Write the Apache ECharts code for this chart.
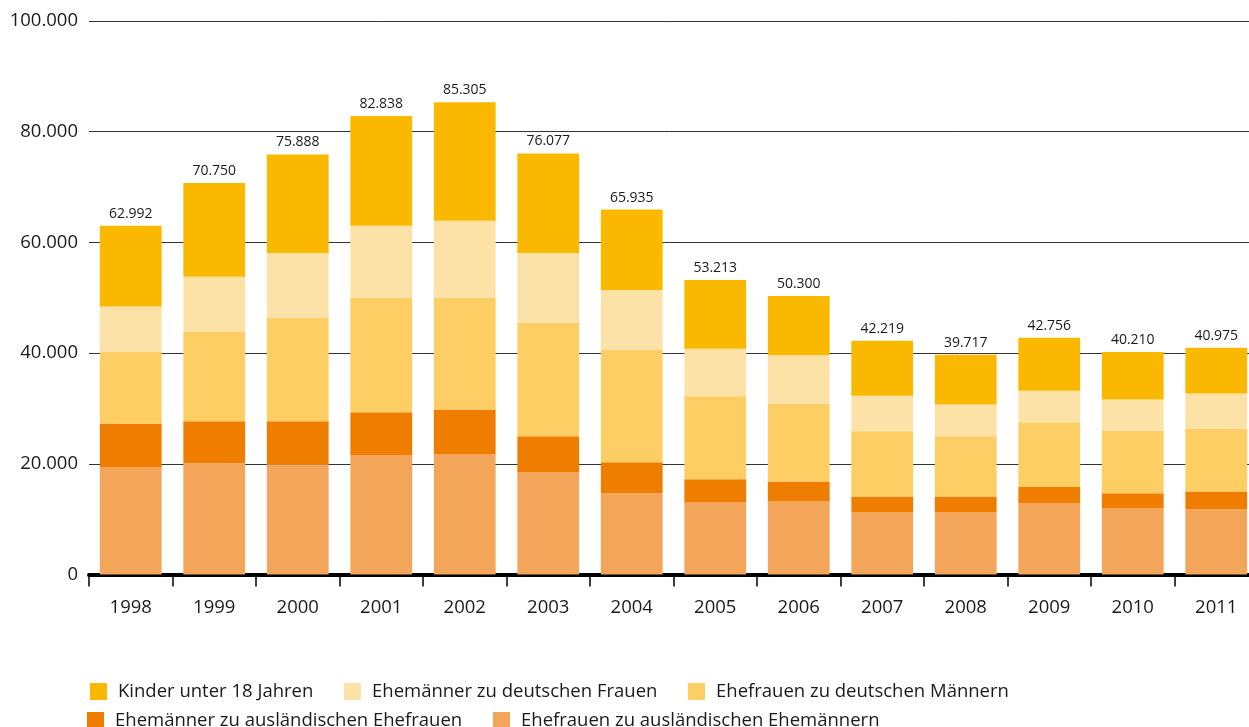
<!DOCTYPE html>
<html><head><meta charset="utf-8">
<script src="https://cdn.jsdelivr.net/npm/echarts@6/dist/echarts.min.js"></script>
<style>html,body{margin:0;padding:0;background:#fff}#c{width:1249px;height:727px}</style>
</head><body><div id="c"></div>
<script>
const years = ['1998','1999','2000','2001','2002','2003','2004','2005','2006','2007','2008','2009','2010','2011'];
const totals = [62992,70750,75888,82838,85305,76077,65935,53213,50300,42219,39717,42756,40210,40975];
const ehefrauenAuslMaenner = [19400,20100,19900,21500,21700,18500,14700,13100,13200,11300,11300,12900,12000,11800];
const ehemaennerAuslFrauen = [7900,7600,7800,7800,8100,6500,5600,4100,3600,2800,2800,2900,2700,3200];
const ehefrauenDtMaenner = [13000,16200,18700,20700,20200,20500,20300,15000,14100,11800,10900,11700,11300,11400];
const ehemaennerDtFrauen = [8100,9900,11700,13000,13900,12600,10800,8600,8700,6400,5700,5700,5600,6300];
const kinder = [14592,16950,17788,19838,21405,17977,14535,12413,10700,9919,9017,9556,8610,8275];
const yTicks = [0,20000,40000,60000,80000,100000];

const names = ['Kinder unter 18 Jahren','Ehemänner zu deutschen Frauen','Ehefrauen zu deutschen Männern','Ehemänner zu ausländischen Ehefrauen','Ehefrauen zu ausländischen Ehemännern'];
const colors = {k:'#fab900', edf:'#fde2a8', edm:'#fdce63', eaf:'#ee7d00', eam:'#f3a659'};
const fmt = v => String(v).replace(/\B(?=(\d{3})+(?!\d))/g, '.');
const FONT = 'Open Sans';

function legend(name, left, top){
  return {data:[name], left:left, top:top, icon:'rect', itemWidth:17, itemHeight:17, itemGap:0,
    selectedMode:false, padding:0,
    textStyle:{fontFamily:FONT, fontSize:18.5, color:'#1a1a1a', padding:[0,0,0,6]}};
}

const chart = echarts.init(document.getElementById('c'), null, {renderer:'canvas'});
const barBase = {type:'bar', stack:'total', barCategoryGap:'26%', animation:false};
chart.setOption({
  animation:false,
  grid:{left:89, width:1169, top:21, bottom:152.5, containLabel:false, outerBoundsMode:'none'},
  legend:[
    legend(names[0], 90, 682),
    legend(names[1], 344, 682),
    legend(names[2], 688, 682),
    legend(names[3], 87, 711),
    legend(names[4], 493, 711)
  ],
  xAxis:{type:'category', data:years,
    axisLine:{lineStyle:{color:'#000', width:4}},
    axisTick:{show:true, length:12, lineStyle:{color:'#000', width:1.5}},
    axisLabel:{fontFamily:FONT, fontSize:18.5, color:'#1a1a1a', margin:24}},
  yAxis:{type:'value', min:yTicks[0], max:yTicks[yTicks.length-1], interval:20000,
    axisLine:{show:false}, axisTick:{show:false},
    splitLine:{lineStyle:{color:'#333', width:1}},
    axisLabel:{fontFamily:FONT, fontSize:18.5, color:'#1a1a1a', margin:11, formatter:fmt}},
  series:[
    Object.assign({}, barBase, {name:names[4], data:ehefrauenAuslMaenner, itemStyle:{color:colors.eam}}),
    Object.assign({}, barBase, {name:names[3], data:ehemaennerAuslFrauen, itemStyle:{color:colors.eaf}}),
    Object.assign({}, barBase, {name:names[2], data:ehefrauenDtMaenner, itemStyle:{color:colors.edm}}),
    Object.assign({}, barBase, {name:names[1], data:ehemaennerDtFrauen, itemStyle:{color:colors.edf}}),
    Object.assign({}, barBase, {name:names[0], data:kinder, itemStyle:{color:colors.k},
      label:{show:true, position:'top', distance:5, fontFamily:FONT, fontSize:14, color:'#1a1a1a',
        formatter:p => fmt(totals[p.dataIndex])}})
  ]
});
</script></body></html>
